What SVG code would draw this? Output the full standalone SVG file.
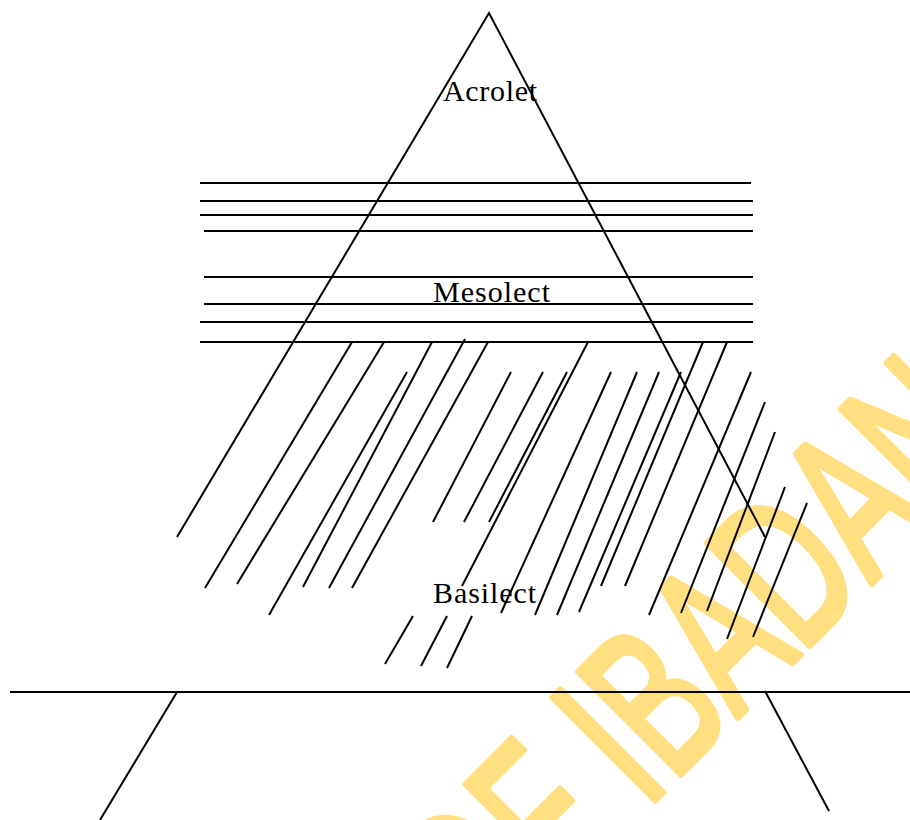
<svg xmlns="http://www.w3.org/2000/svg" width="910" height="820" viewBox="0 0 910 820">
<style>
.ln{stroke:#000;stroke-width:2;fill:none;stroke-linecap:butt}
.lbl{font-family:"Liberation Serif","Times New Roman",serif;font-size:30px;fill:#000}
.wm{font-family:"Liberation Sans",Arial,sans-serif;font-size:210px;fill:#FFDF80;stroke:#FFDF80;stroke-width:7;stroke-linejoin:round;stroke-linecap:round}
</style>
<rect width="910" height="820" fill="#fff"/>
<g id="watermark">
<text class="wm" transform="translate(484.6,970.4) rotate(-45) scale(0.65,1)">OF IBADAN</text>
</g>
<g id="triangle">
<polyline class="ln" points="177,537 489,13 765,537"/>
</g>
<g id="bands">
<line class="ln" x1="200" y1="183" x2="751" y2="183"/>
<line class="ln" x1="200" y1="201" x2="753" y2="201"/>
<line class="ln" x1="200" y1="215" x2="753" y2="215"/>
<line class="ln" x1="204" y1="231" x2="753" y2="231"/>
<line class="ln" x1="204" y1="277" x2="753" y2="277"/>
<line class="ln" x1="204" y1="304" x2="753" y2="304"/>
<line class="ln" x1="200" y1="322" x2="753" y2="322"/>
<line class="ln" x1="200" y1="342" x2="753" y2="342"/>
</g>
<g id="hatching">
<line class="ln" x1="352" y1="342" x2="205" y2="588"/>
<line class="ln" x1="384" y1="342" x2="237" y2="584"/>
<line class="ln" x1="407" y1="372" x2="269" y2="615"/>
<line class="ln" x1="432" y1="342" x2="303" y2="587"/>
<line class="ln" x1="465" y1="339" x2="329" y2="588"/>
<line class="ln" x1="488" y1="342" x2="352" y2="588"/>
<line class="ln" x1="511" y1="372" x2="433" y2="522"/>
<line class="ln" x1="543" y1="372" x2="464" y2="522"/>
<line class="ln" x1="567" y1="372" x2="489" y2="522"/>
<line class="ln" x1="588" y1="342" x2="462" y2="586"/>
<line class="ln" x1="611" y1="372" x2="501" y2="613"/>
<line class="ln" x1="637" y1="372" x2="535" y2="615"/>
<line class="ln" x1="659" y1="372" x2="557" y2="615"/>
<line class="ln" x1="681" y1="372" x2="579" y2="612"/>
<line class="ln" x1="703" y1="342" x2="601" y2="586"/>
<line class="ln" x1="727" y1="342" x2="625" y2="586"/>
<line class="ln" x1="751" y1="372" x2="649" y2="615"/>
<line class="ln" x1="765" y1="402" x2="681" y2="613"/>
<line class="ln" x1="775" y1="432" x2="707" y2="611"/>
<line class="ln" x1="785" y1="487" x2="727" y2="639"/>
<line class="ln" x1="807" y1="503" x2="753" y2="637"/>
<line class="ln" x1="413" y1="616" x2="385" y2="664"/>
<line class="ln" x1="447" y1="616" x2="421" y2="666"/>
<line class="ln" x1="472" y1="616" x2="447" y2="668"/>
</g>
<g id="base">
<line class="ln" x1="10" y1="692" x2="910" y2="692"/>
<line class="ln" x1="177" y1="692" x2="100" y2="820"/>
<line class="ln" x1="765" y1="691" x2="829" y2="811"/>
</g>
<g id="acrolet"><text class="lbl" x="443" y="101" textLength="94">Acrolet</text></g>
<g id="mesolect"><text class="lbl" x="433" y="302" textLength="117">Mesolect</text></g>
<g id="basilect"><text class="lbl" x="433" y="603" textLength="103">Basilect</text></g>
</svg>
